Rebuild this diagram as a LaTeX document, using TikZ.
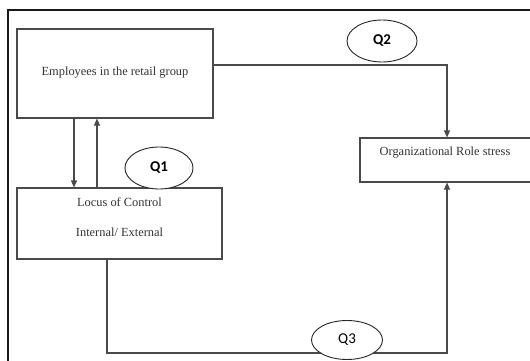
\documentclass[tikz,border=0pt]{standalone}
\usepackage{fontspec}
\setmainfont{Liberation Serif}
\newfontfamily\qfont{Carlito}
\usetikzlibrary{arrows.meta,shapes.geometric,calc}
\definecolor{linegray}{HTML}{4A4A4A}
\tikzset{
  box/.style={draw=linegray, line width=1.1pt, fill=white, minimum width=#1, inner sep=0pt},
  boxtext/.style={font=\fontsize{12.4}{14}\selectfont, text=black!80, inner sep=0pt},
  qlabel/.style={ellipse, draw=black!85, line width=0.9pt, fill=white, inner sep=0pt,
                 font=\qfont\fontsize{15}{16}\selectfont},
  conn/.style={draw=linegray, line width=1.1pt},
  arr/.style={conn, -{Triangle[length=7pt,width=6pt]}},
}
\begin{document}
\begin{tikzpicture}[x=1pt,y=-1pt]
\useasboundingbox (0,0) rectangle (530,361);
\clip (0,0) rectangle (530,361);

% outer frame
\draw[line width=2.6pt, black!90] (8,10) rectangle (560,380);

% boxes
\node[box=196pt, minimum height=89pt] (emp) at (115,73.5) {};
\node[boxtext] (emptxt) at (115,73) {Employees in the retail group};

\node[box=205pt, minimum height=71pt] (loc) at (119.5,223.5) {};
\node[boxtext, align=center, font=\fontsize{12.4}{30}\selectfont] (loctxt) at (119.5,217)
  {Locus of Control\\Internal/ External};

\node[box=174pt, minimum height=44pt] (ors) at (447,160) {};
\node[boxtext] (orstxt) at (445,153) {Organizational Role stress};

% helper coordinates for connector lanes
\coordinate (xdown) at (74,0);
\coordinate (xup) at (97,0);
\coordinate (xq3) at (107,0);
\coordinate (ylow) at (0,353);

% connectors
\draw[arr] ([yshift=8.5pt]emp.east) -| (ors.north);
\draw[arr] (emp.south -| xdown) -- (loc.north -| xdown);
\draw[arr] (loc.north -| xup) -- (emp.south -| xup);
\draw[arr] (loc.south -| xq3) |- (ors.south |- ylow) -- (ors.south);

% question labels
\node[qlabel, minimum width=68pt, minimum height=42pt] (q1) at (159,168) {\bfseries Q1};
\node[qlabel, minimum width=70pt, minimum height=42pt] (q2) at (382,41) {\bfseries Q2};
\node[qlabel, minimum width=71pt, minimum height=39pt] (q3) at (347,340) {Q3};
\end{tikzpicture}
\end{document}
